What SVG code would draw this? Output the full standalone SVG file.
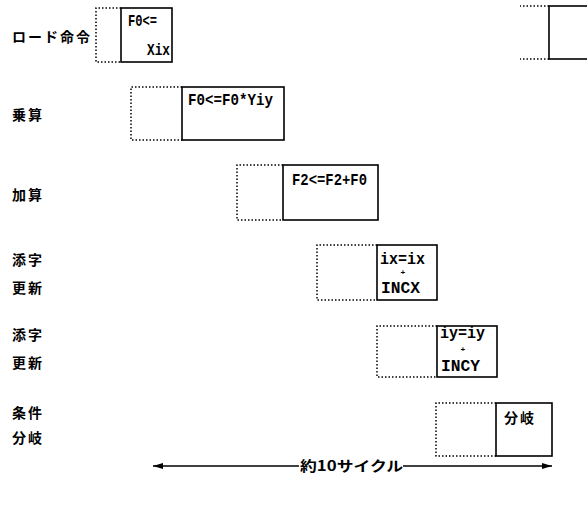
<svg xmlns="http://www.w3.org/2000/svg" width="587" height="508" viewBox="0 0 587 508">
<style>
.lbl{font-family:"Noto Sans CJK JP","Noto Sans",sans-serif;font-weight:bold;font-size:14px;letter-spacing:2px;fill:#000}
.mono{font-family:"Liberation Mono","DejaVu Sans Mono",monospace;font-weight:bold;font-size:17px;fill:#000}
.plus{font-family:"Liberation Mono","DejaVu Sans Mono",monospace;font-weight:bold;font-size:8px;fill:#000}
.dot{fill:none;stroke:#000;stroke-width:1.5;stroke-dasharray:1.5 2}
.box{fill:#fff;stroke:#000;stroke-width:1.6}
.cyc{font-family:"Noto Sans CJK JP","Noto Sans",sans-serif;font-weight:bold;font-size:14px;fill:#000}
</style>
<defs>
<marker id="ah" viewBox="0 0 10 6" refX="10" refY="3" markerWidth="10" markerHeight="6" markerUnits="userSpaceOnUse" orient="auto-start-reverse">
<path d="M0,0 L10,3 L0,6 Z" fill="#000"/>
</marker>
</defs>
<rect width="587" height="508" fill="#fff"/>

<g id="labels">
<text class="lbl" x="12" y="42">ロード命令</text>
<text class="lbl" x="12" y="120">乗算</text>
<text class="lbl" x="12" y="200">加算</text>
<text class="lbl" x="12" y="265">添字</text>
<text class="lbl" x="12" y="293">更新</text>
<text class="lbl" x="12" y="340">添字</text>
<text class="lbl" x="12" y="368">更新</text>
<text class="lbl" x="12" y="418">条件</text>
<text class="lbl" x="12" y="443">分岐</text>
</g>

<g id="node-load">
<path class="dot" d="M121,8 H96 V62 H121"/>
<rect class="box" x="121" y="8" width="51" height="54"/>
<text class="mono" x="128" y="26" textLength="29" lengthAdjust="spacingAndGlyphs">F0&lt;=</text>
<text class="mono" x="147" y="55" textLength="23" lengthAdjust="spacingAndGlyphs">Xix</text>
</g>

<g id="node-mul">
<path class="dot" d="M182,87 H131 V140 H182"/>
<rect class="box" x="182" y="87" width="102" height="53"/>
<text class="mono" x="188" y="105" textLength="85" lengthAdjust="spacingAndGlyphs">F0&lt;=F0*Yiy</text>
</g>

<g id="node-add">
<path class="dot" d="M283,165 H237 V220 H283"/>
<rect class="box" x="283" y="165" width="95" height="55"/>
<text class="mono" x="292" y="185" textLength="75" lengthAdjust="spacingAndGlyphs">F2&lt;=F2+F0</text>
</g>

<g id="node-incx">
<path class="dot" d="M377,245 H317 V300 H377"/>
<rect class="box" x="377" y="245" width="60" height="55"/>
<text class="mono" x="380" y="264" textLength="45" lengthAdjust="spacingAndGlyphs">ix=ix</text>
<text class="plus" x="403" y="275" text-anchor="middle">+</text>
<text class="mono" x="381" y="293" textLength="39" lengthAdjust="spacingAndGlyphs">INCX</text>
</g>

<g id="node-incy">
<path class="dot" d="M437,326 H377 V377 H437"/>
<rect class="box" x="437" y="326" width="60" height="51"/>
<text class="mono" x="440" y="338" textLength="45" lengthAdjust="spacingAndGlyphs">iy=iy</text>
<text class="plus" x="463" y="352" text-anchor="middle">+</text>
<text class="mono" x="441" y="371" textLength="39" lengthAdjust="spacingAndGlyphs">INCY</text>
</g>

<g id="node-branch">
<path class="dot" d="M496,403 H436 V456 H496"/>
<rect class="box" x="496" y="403" width="56" height="53"/>
<text class="lbl" x="504" y="423" font-size="15" letter-spacing="1">分岐</text>
</g>

<g id="node-next">
<path class="dot" d="M549,6 H520"/>
<path class="dot" d="M549,59 H520"/>
<rect class="box" x="549" y="6" width="45" height="53"/>
</g>

<g id="connectors">
<line x1="299" y1="466" x2="153" y2="466" stroke="#000" stroke-width="1.3" marker-end="url(#ah)"/>
<line x1="403" y1="466" x2="552" y2="466" stroke="#000" stroke-width="1.3" marker-end="url(#ah)"/>
<text class="cyc" x="300" y="471" textLength="103" lengthAdjust="spacingAndGlyphs">約10サイクル</text>
</g>
</svg>
